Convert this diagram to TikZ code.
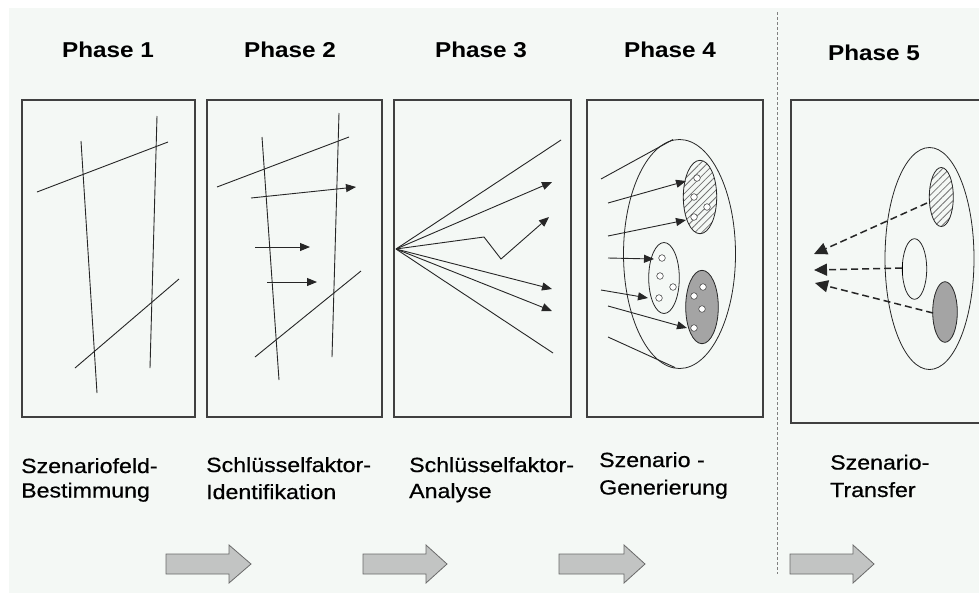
\documentclass[tikz,border=0pt]{standalone}
\usepackage{fontspec}
\setmainfont[FakeStretch=1.13]{Liberation Sans}
\newfontfamily\lblfont[FakeStretch=1.13,FakeBold=0.6]{Liberation Sans}
\usetikzlibrary{arrows.meta,patterns.meta}
\definecolor{bgc}{HTML}{F4F8F5}
\definecolor{framec}{HTML}{404040}
\definecolor{darkfill}{HTML}{A4A4A4}
\definecolor{blockfill}{HTML}{C2C4C3}
\definecolor{blockline}{HTML}{6A6A6A}
\newcommand\myblockarrow[4]{\draw[blk] (#1,554) -- (#2,554) -- (#2,545) -- (#3,564) -- (#2,583) -- (#2,574) -- (#1,574) -- cycle;}
\begin{document}
\begin{tikzpicture}[x=1pt,y=-1pt,
  panel/.style={draw=framec,line width=1.3pt},
  thinl/.style={line width=0.9pt, draw=black!85},
  arr/.style={thinl,-{Triangle[length=10pt,width=8pt]}},
  darr/.style={line width=1.5pt, draw=black!85, dash pattern=on 7pt off 4pt, -{Triangle[length=13pt,width=12pt]}},
  title/.style={font=\bfseries\fontsize{21.5}{24}\selectfont, inner sep=0, anchor=base},
  lbl/.style={font=\lblfont\fontsize{20.5}{24}\selectfont, inner sep=0, anchor=base west},
  blk/.style={fill=blockfill, draw=blockline, line width=0.8pt},
  dot/.style={draw=black!70, fill=white, line width=0.6pt},
  ell/.style={draw=black!85, line width=0.8pt},
  hatch/.style={ell, pattern={Lines[angle=45,distance=5pt,line width=0.8pt]}, pattern color=black!55}]

\useasboundingbox (0,0) rectangle (979,595);
\fill[white] (0,0) rectangle (979,595);
\fill[bgc] (9,8) rectangle (979,593);

% titles
\node[title] (t1) at (108,57) {Phase 1};
\node[title] (t2) at (290,57) {Phase 2};
\node[title] (t3) at (481,57) {Phase 3};
\node[title] (t4) at (670,57) {Phase 4};
\node[title] (t5) at (874,60) {Phase 5};

% divider
\draw[gray, line width=0.8pt, dash pattern=on 3pt off 2pt] (777,12) -- (777,574);

% panels
\draw[panel] (22,100) rectangle (195,417);
\draw[panel] (207,100) rectangle (382,417);
\draw[panel] (394,100) rectangle (571,417);
\draw[panel] (587,100) rectangle (763,417);
\draw[panel] (791,100) rectangle (995,423);

% panel 1
\draw[thinl] (81,141) -- (97,393);
\draw[thinl] (157,116) -- (150,368);
\draw[thinl] (37,192) -- (168,142);
\draw[thinl] (75,368) -- (179,279);

% panel 2
\draw[thinl] (262,137) -- (279,380);
\draw[thinl] (339,113) -- (332,357);
\draw[thinl] (217,187) -- (349,137);
\draw[thinl] (255,357) -- (361,271);
\draw[arr] (251,198) -- (356,187);
\draw[arr] (255,247) -- (310,247);
\draw[arr] (267,282) -- (317,282);

% panel 3
\coordinate (o3) at (396,249);
\draw[thinl] (o3) -- (561,140);
\draw[arr] (o3) -- (552,182);
\draw[arr] (o3) -- (484,237) -- (501,259) -- (549,217);
\draw[arr] (o3) -- (552,289);
\draw[arr] (o3) -- (552,311);
\draw[thinl] (o3) -- (553,353);

% panel 4
\draw[ell] (679.5,254) ellipse [x radius=56, y radius=114.5];
\draw[thinl] (601,179) -- (673,139.5);
\draw[thinl] (608,337) -- (675,367.5);
\fill[bgc] (700,197) ellipse [x radius=16.7, y radius=36.7];
\draw[hatch] (700,197) ellipse [x radius=16.7, y radius=36.7];
\draw[ell] (664,278) ellipse [x radius=15.3, y radius=35.5];
\draw[ell, fill=darkfill] (702,307) ellipse [x radius=16.3, y radius=36.7];
\foreach \p in {(697,178),(694,197),(707,207),(694,217),
                (662,258),(660,276),(673,287),(659,298),
                (703,287),(694,296),(702,309),(694,328)}
  \draw[dot] \p circle (3.3);
\draw[arr] (608,203) -- (686,181);
\draw[arr] (608,236) -- (686,220);
\draw[arr] (608,258) -- (654,259);
\draw[arr] (601,290) -- (648,298);
\draw[arr] (608,306) -- (687,328);

% panel 5
\draw[ell] (929.5,258.5) ellipse [x radius=44.5, y radius=111];
\fill[bgc] (941.3,197) ellipse [x radius=12, y radius=29.5];
\draw[hatch] (941.3,197) ellipse [x radius=12, y radius=29.5];
\draw[ell] (914.5,269) ellipse [x radius=12.2, y radius=30.3];
\draw[ell, fill=darkfill] (945,312) ellipse [x radius=12.3, y radius=30.3];
\draw[darr] (927,203) -- (814,254);
\draw[darr] (902,268) -- (814,270);
\draw[line width=1pt] (902,262) -- (902,275);
\draw[darr] (933,313) -- (815,283);

% bottom labels
\node[lbl] (l1a) at (21,473) {Szenariofeld-};
\node[lbl] (l1b) at (21,497.5) {Bestimmung};
\node[lbl] (l2a) at (206,472) {Schlüsselfaktor-};
\node[lbl] (l2b) at (206,499) {Identifikation};
\node[lbl] (l3a) at (409,472) {Schlüsselfaktor-};
\node[lbl] (l3b) at (409,498) {Analyse};
\node[lbl] (l4a) at (599,467) {Szenario -};
\node[lbl] (l4b) at (599,494.5) {Generierung};
\node[lbl] (l5a) at (830,469.5) {Szenario-};
\node[lbl] (l5b) at (830,497) {Transfer};

% block arrows
\myblockarrow{166}{229}{251}{a1}
\myblockarrow{363}{426}{447}{a2}
\myblockarrow{559}{624}{645}{a3}
\myblockarrow{790}{853}{874}{a4}
\end{tikzpicture}
\end{document}
